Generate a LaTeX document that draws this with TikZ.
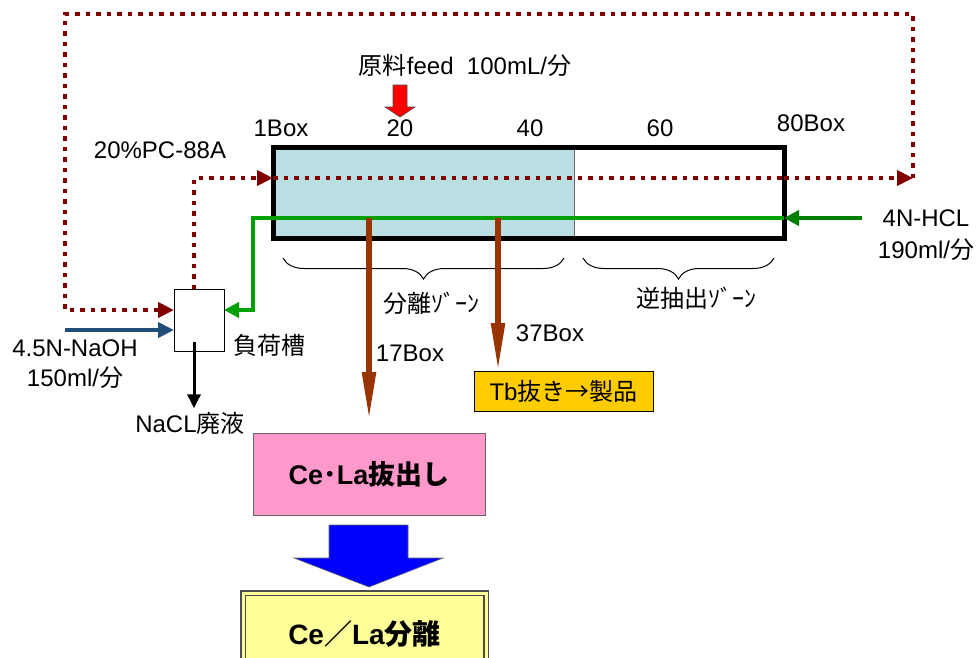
\documentclass[tikz,border=0pt]{standalone}
\usepackage{fontspec}
\setmainfont{Liberation Sans}
\newfontfamily\jp{Noto Sans CJK JP}
\usetikzlibrary{arrows.meta,decorations.pathreplacing}

\definecolor{orgred}{HTML}{800000}
\definecolor{acidgreen}{HTML}{00A000}
\definecolor{acidin}{HTML}{008000}
\definecolor{basenavy}{HTML}{1F4E79}
\definecolor{cutbrown}{HTML}{993300}
\definecolor{sepblue}{HTML}{B9DFE3}
\definecolor{cepink}{HTML}{FF99CC}
\definecolor{tbgold}{HTML}{FFCC00}
\definecolor{lapale}{HTML}{FFFF99}

\begin{document}
\begin{tikzpicture}[x=1pt, y=-1pt, font=\fontsize{24}{28}\selectfont,
  org/.style={draw=orgred, line width=4.5pt, dash pattern=on 4.5pt off 6pt, >={Triangle[length=16pt,width=15pt]}},
  acid/.style={draw=acidgreen, line width=4.5pt, >={Triangle[length=15pt,width=15pt]}},
  base/.style={draw=basenavy, line width=4.5pt, >={Triangle[length=16pt,width=15pt]}},
  cut/.style={draw=cutbrown, line width=5.5pt, >={Triangle[length=48pt,width=13pt]}},
  drain/.style={draw=black, line width=3pt, >={Triangle[length=14pt,width=13pt]}},
  zone/.style={decorate, decoration={brace, mirror, amplitude=21pt}, line width=1pt},
  box/.style={draw, inner sep=0pt, outer sep=0pt}]
\useasboundingbox (0,0) rectangle (978,657);

% column
\node[box, draw=none, fill=sepblue, minimum width=301pt, minimum height=91pt] (sep) at (423.5,192.5) {};
\draw[black!60, line width=1pt] (sep.north east) -- (sep.south east);
\node[box, line width=5pt, minimum width=511pt, minimum height=91pt] (col) at (528.5,192.5) {};

\node (b1) at (281,128) {1Box};
\node (b20) at (400,128) {20};
\node (b40) at (530,128) {40};
\node (b60) at (660,128) {60};
\node (b80) at (811,123) {80Box};

% feed
\node (feed) at (465,65) {{\jp 原料}feed\ \ 100mL/{\jp 分}};
\filldraw[fill=red, draw=black!70, line width=0.6pt] (393,85) -- (407,85) -- (407,107) -- (415,107) -- (400,117) -- (385,107) -- (393,107) -- cycle;

\node (pc) at (160,150) {20\%PC-88A};

% load tank
\node[box, line width=1pt, minimum width=50pt, minimum height=62pt] (tank) at (199,320) {};
\node (tanklbl) at (269,345) {\jp 負荷槽};
\node (naoh) at (75,348) {4.5N-NaOH};
\node (naohrate) at (75,378) {150ml/{\jp 分}};
\node (nacl) at (190,423) {NaCL{\jp 廃液}};

% organic loop
\coordinate (orgin) at (273,178);
\coordinate (orgout) at (784,178);
\coordinate (loopR) at (913,178);
\coordinate (loopTR) at (913,14);
\coordinate (loopTL) at (65,14);
\draw[org,->] ([xshift=-5pt]tank.north) |- (orgin);
\draw[org] (orgin) -- (orgout);
\draw[org,->] (orgout) -- (loopR);
\draw[org,->] (loopR) -- (loopTR) -- (loopTL) |- ([yshift=10pt]tank.west);

% acid
\node (hcl) at (926,218) {4N-HCL};
\node (hclrate) at (926,250) {190ml/{\jp 分}};
\coordinate (hclin) at (862,218);
\coordinate (acidR) at (784,218);
\coordinate (acidL) at (253,218);
\draw[acid, draw=acidin, ->] (hclin) -- (acidR);
\draw[acid,->] (acidR) -- (acidL) |- ([yshift=10pt]tank.east);

% base, drain
\coordinate (naohin) at (65,330);
\draw[base,->] (naohin) -- ([yshift=-10pt]tank.west);
\coordinate (drainout) at (194,342);
\draw[drain,->] (drainout) -- (drainout |- nacl.north);

% zones
\draw[zone] (283,258) -- (564,258);
\draw[zone] (583,258) -- (774,258);
\node (sepzone) at (431,303) {\jp 分離ｿﾞｰﾝ};
\node (backzone) at (696,298) {\jp 逆抽出ｿﾞｰﾝ};

% products
\node[box, fill=cepink, draw=black!60, line width=1pt, minimum width=232pt, minimum height=82pt, font=\fontsize{27}{31}\selectfont\bfseries] (cebox) at (369,474) {Ce{\jp ･}La{\jp 抜出し}};
\node[box, fill=tbgold, line width=1pt, minimum width=179pt, minimum height=40pt] (tbbox) at (563.5,391) {Tb{\jp 抜き→製品}};
\coordinate (cut17) at (369,218);
\coordinate (cut37) at (498,218);
\draw[cut,->] (cut17) -- ([yshift=13pt]cebox.north);
\draw[cut,->] (cut37) -- (cut37 |- tbbox.north);
\node (b17) at (410,353) {17Box};
\node (b37) at (550,333) {37Box};

\filldraw[fill=blue, draw=black!60, line width=0.6pt] (329,525) -- (408,525) -- (408,558) -- (443,558) -- (369,587) -- (294,558) -- (329,558) -- cycle;
\node[box, fill=lapale, draw=black!70, line width=1.2pt, double=lapale, double distance=3pt, minimum width=243pt, minimum height=82pt, font=\fontsize{28}{32}\selectfont\bfseries] (labox) at (364.5,634) {Ce{\jp ／}La{\jp 分離}};
\end{tikzpicture}
\end{document}
